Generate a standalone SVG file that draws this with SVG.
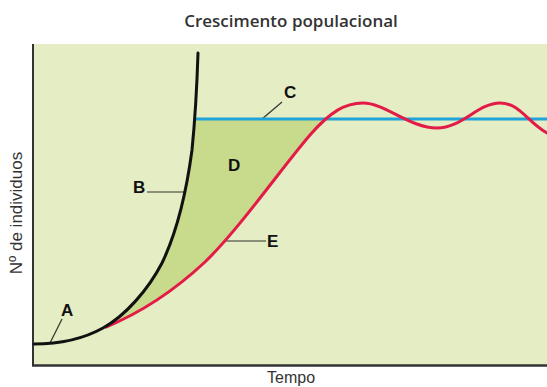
<svg xmlns="http://www.w3.org/2000/svg" width="547" height="387" viewBox="0 0 547 387">
<style>
.lbl{font-family:"Liberation Sans",Arial,sans-serif;font-weight:bold;font-size:17px;fill:#111}
.ax{font-family:"Liberation Sans",Arial,sans-serif;font-size:16px;fill:#333}
.ylab{font-size:17px}
.lead{stroke:#333;stroke-width:1.2;fill:none}
.crv{fill:none;stroke-width:3;stroke-linecap:round;stroke-linejoin:round}
</style>
<defs>
<clipPath id="belowC"><rect x="0" y="119" width="547" height="300"/></clipPath>
</defs>
<rect width="547" height="387" fill="#ffffff"/>
<text x="291" y="27" text-anchor="middle" font-family="'Open Sans','Noto Sans',sans-serif" font-weight="600" font-size="17" fill="#333">Crescimento populacional</text>
<g id="plot">
<rect x="33" y="44" width="514" height="321" fill="#e4edc3"/>
<path d="M103,328 C125,316 148,290 162,263 C176,234 186,195 192,150 C195,120 197,85 198,53 L330,53 L330,115 L310,135 C280,170 240,228 205,262 C175,290 140,312 108,326 Z" fill="#c8da8c" clip-path="url(#belowC)"/>
<line x1="33" y1="44" x2="33" y2="366" stroke="#333" stroke-width="2"/>
<line x1="32" y1="365.5" x2="547" y2="365.5" stroke="#333" stroke-width="2.5"/>
</g>
<g id="connectors">
<line class="lead" x1="50" y1="343" x2="62" y2="319"/>
<line class="lead" x1="147" y1="192" x2="185" y2="192"/>
<line class="lead" x1="262" y1="119" x2="282" y2="102"/>
<line class="lead" x1="225" y1="241" x2="266" y2="241"/>
</g>
<g id="C">
<line x1="195" y1="119" x2="547" y2="119" stroke="#1fa3d8" stroke-width="3"/>
<text class="lbl" x="284" y="98">C</text>
</g>
<g id="E">
<path class="crv" stroke="#e31b47" d="M106,327 C140,313 175,290 205,262 C240,228 280,170 310,135 C330,112 345,103 363,103 C385,103 410,128 437,128 C462,128 478,103 500,103 C520,103 527,122 547,133"/>
<text class="lbl" x="267" y="247">E</text>
</g>
<g id="B">
<path class="crv" stroke="#111" d="M34,344 C60,344 85,338 103,328 C125,316 148,290 162,263 C176,234 186,195 192,150 C195,120 197,85 198,53"/>
<text class="lbl" x="133" y="193">B</text>
</g>
<g id="A">
<text class="lbl" x="61" y="316">A</text>
</g>
<g id="D">
<text class="lbl" x="228" y="171">D</text>
</g>
<text class="ax ylab" transform="translate(22,213) rotate(-90)" text-anchor="middle">Nº de individuos</text>
<text class="ax" x="267" y="383">Tempo</text>
</svg>
